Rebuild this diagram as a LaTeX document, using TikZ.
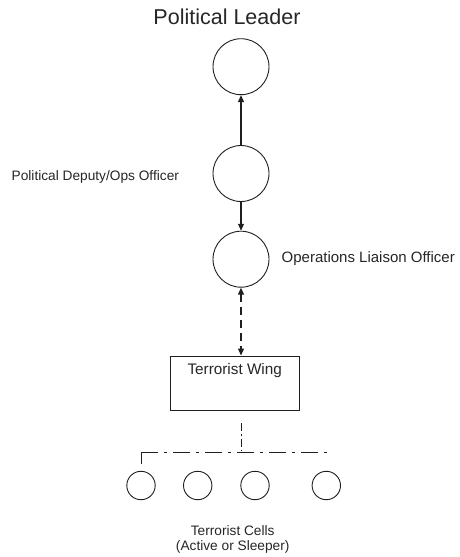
\documentclass[tikz,border=0pt]{standalone}
\usepackage{fontspec}
\setmainfont{Liberation Sans}
\usetikzlibrary{arrows.meta}
\begin{document}
\begin{tikzpicture}[x=1pt,y=-1pt,
  ink/.style={draw=black!88, line width=0.9pt},
  bigcircle/.style={ink, circle, minimum size=56pt, inner sep=0pt},
  cell/.style={ink, circle, minimum size=28.4pt, inner sep=0pt},
  lbl/.style={text=black!85, inner sep=0pt, font=\fontsize{13.7pt}{15pt}\selectfont},
  tip/.style={-{Triangle[length=7pt,width=6pt]}},
  dashdot/.style={dash pattern=on 17pt off 6pt on 3pt off 6pt}
]
\useasboundingbox (0,0) rectangle (460,557);

% leadership chain
\node[bigcircle] (leader) at (241,66.7) {};
\node[bigcircle] (deputy) at (241,173.5) {};
\node[bigcircle] (liaison) at (241,259.2) {};

\node[text=black!85, inner sep=0pt, font=\fontsize{21.5pt}{24pt}\selectfont] (leadertext) at (227,17) {Political Leader};
\node[lbl, anchor=west] (deputytext) at (11.5,176.5) {Political Deputy/Ops Officer};
\node[lbl, anchor=west, font=\fontsize{15pt}{17pt}\selectfont] (liaisontext) at (281.5,258.5) {Operations Liaison Officer};

% terrorist wing box
\node[ink, rectangle, minimum width=128.7pt, minimum height=54pt, inner sep=0pt] (wing) at (234.7,383) {};
\node[lbl, font=\fontsize{15.3pt}{17pt}\selectfont, anchor=north] (wingtext) at ([yshift=-8pt]wing.north) {Terrorist Wing};

% connectors
\draw[ink, line width=1.1pt, tip] (deputy) -- (leader);
\draw[ink, line width=1.1pt, tip] (deputy) -- (liaison);
\draw[ink, line width=1.1pt, dashed, dash pattern=on 8pt off 5pt,
      {Triangle[length=7pt,width=6pt]}-{Triangle[length=7pt,width=6pt]}]
      (liaison.south) -- (liaison.south |- wing.north);

% cells
\node[cell] (c1) at (141,485.5) {};
\node[cell] (c2) at (197.7,485.5) {};
\node[cell] (c3) at (255,485.5) {};
\node[cell] (c4) at (326.3,485.5) {};

\coordinate (drop) at (241.5,423);
\coordinate (bus) at (241.5,452.5);
\coordinate (busleft) at (141,452.5);
\coordinate (busright) at (327,452.5);
\coordinate (legend) at (141,464);

\draw[ink, line width=0.9pt, dash pattern=on 8pt off 3pt on 1.5pt off 3pt] (drop) -- (bus);
\draw[ink, line width=1.9pt, dashdot] (busleft) -- (busright);
\draw[ink, line width=0.9pt] (busleft) -- (legend);

\node[lbl, align=center, anchor=north] (cellstext) at (232.7,525.5) {Terrorist Cells\\(Active or Sleeper)};
\end{tikzpicture}
\end{document}
